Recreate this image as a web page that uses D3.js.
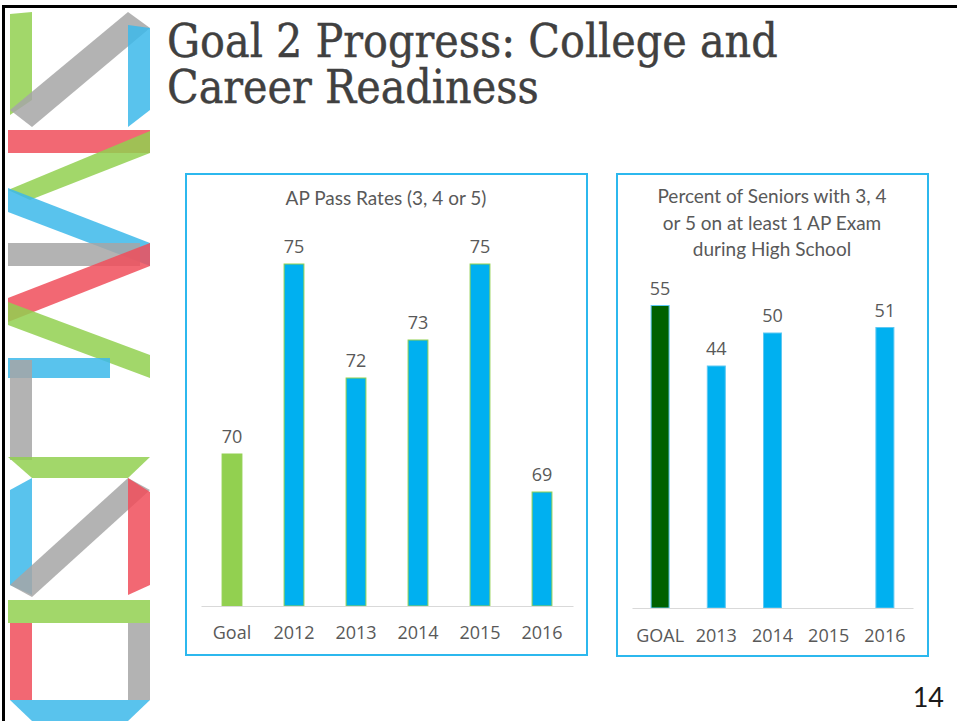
<!DOCTYPE html>
<html>
<head>
<meta charset="utf-8">
<script src="https://cdn.jsdelivr.net/npm/d3@7"></script>
<style>
  html, body { margin: 0; padding: 0; background: #ffffff; }
  svg { display: block; }
  .axis text { font-family: "Open Sans", sans-serif; font-size: 18px; fill: #595959; }
  .axis path { stroke: #d9d9d9; }
</style>
</head>
<body>
<div id="slide"></div>
<script>
// slide.js

// AP pass rates chart
const apCategories = ["Goal", "2012", "2013", "2014", "2015", "2016"];
const apValues = [70, 75, 72, 73, 75, 69];

// seniors with a 3+ chart (no 2015 value)
const seniorCategories = ["GOAL", "2013", "2014", "2015", "2016"];
const seniorValues = [55, 44, 50, null, 51];

const titleLines = ["Goal 2 Progress:  College and", "Career Readiness"];
const apTitle = ["AP Pass Rates (3, 4 or 5)"];
const seniorTitle = ["Percent of Seniors with 3, 4", "or 5 on at least 1 AP Exam", "during High School"];

(function() {
    const W = 957, H = 721;
    const blue = "#00b0f0", green = "#92d050", darkGreen = "#006100";

    const svg = d3.select("#slide").append("svg")
        .attr("width", W)
        .attr("height", H);

    // ribbon logo down the left side
    const ribbons = [
        ["#92d050", [[10,14],[32,12],[32,100],[10,115]]],
        ["#a6a6a6", [[10,110],[128,12],[150,28],[32,127]]],
        ["#3cb9ea", [[128,25],[150,28],[150,110],[128,127]]],
        ["#f04e5a", [[8,130],[150,130],[150,153],[8,153]]],
        ["#92d050", [[150,131],[150,153],[30,200],[8,190]]],
        ["#3cb9ea", [[8,188],[150,243],[150,266],[8,212]]],
        ["#a6a6a6", [[8,243],[140,243],[140,266],[8,266]]],
        ["#f04e5a", [[150,243],[150,266],[8,322],[8,298]]],
        ["#92d050", [[8,302],[8,325],[150,378],[150,355]]],
        ["#3cb9ea", [[8,358],[110,358],[110,378],[8,378]]],
        ["#a6a6a6", [[10,360],[32,360],[32,460],[10,460]]],
        ["#92d050", [[8,457],[150,457],[128,478],[32,478]]],
        ["#3cb9ea", [[10,490],[32,478],[32,595],[10,585]]],
        ["#a6a6a6", [[128,478],[150,490],[32,597],[10,585]]],
        ["#f04e5a", [[128,478],[150,492],[150,585],[128,595]]],
        ["#92d050", [[8,600],[150,600],[150,623],[8,623]]],
        ["#f04e5a", [[10,623],[32,623],[32,700],[10,700]]],
        ["#a6a6a6", [[128,623],[150,623],[150,700],[128,700]]],
        ["#3cb9ea", [[10,700],[150,700],[128,721],[32,721]]]
    ];
    svg.append("g").selectAll("polygon")
        .data(ribbons)
        .join("polygon")
        .attr("points", d => d[1].map(p => p.join(",")).join(" "))
        .attr("fill", d => d[0])
        .attr("fill-opacity", 0.85);

    // black frame (top + left)
    svg.append("rect").attr("x", 2).attr("y", 5).attr("width", W).attr("height", 3).attr("fill", "#000");
    svg.append("rect").attr("x", 2).attr("y", 5).attr("width", 3).attr("height", H).attr("fill", "#000");

    // slide title (one text, two lines)
    svg.append("text")
        .attr("font-family", "DejaVu Serif Condensed, DejaVu Serif, serif")
        .attr("font-stretch", "condensed")
        .attr("font-size", 46)
        .attr("fill", "#404040")
        .attr("stroke", "#404040")
        .attr("stroke-width", 0.4)
        .selectAll("tspan")
        .data(titleLines)
        .join("tspan")
        .attr("x", 167)
        .attr("y", (d, i) => 57 + i * 46)
        .text(d => d);

    function drawChart(cfg) {
        const g = svg.append("g");

        g.append("rect")
            .attr("x", cfg.box[0]).attr("y", cfg.box[1])
            .attr("width", cfg.box[2]).attr("height", cfg.box[3])
            .attr("fill", "none")
            .attr("stroke", "#2cb8ee")
            .attr("stroke-width", 2);

        g.append("g").selectAll("text")
            .data(cfg.title)
            .join("text")
            .attr("x", cfg.titleX)
            .attr("y", (d, i) => cfg.titleY + i * 26.5)
            .attr("text-anchor", "middle")
            .attr("font-family", "Lato, sans-serif")
            .attr("font-size", 19)
            .attr("fill", "#595959")
            .text(d => d);

        const x = d3.scaleBand()
            .domain(cfg.categories)
            .range(cfg.xRange)
            .paddingInner(0.68)
            .paddingOuter(0.34);

        const y = d3.scaleLinear()
            .domain(cfg.yDomain)
            .range(cfg.yRange);

        const data = cfg.categories.map((c, i) => ({ cat: c, val: cfg.values[i], i }))
            .filter(d => d.val != null);

        g.append("g").selectAll("rect")
            .data(data)
            .join("rect")
            .attr("x", d => x(d.cat))
            .attr("y", d => y(d.val))
            .attr("width", x.bandwidth())
            .attr("height", d => y(cfg.yDomain[0]) - y(d.val))
            .attr("fill", d => d.i === 0 ? cfg.goalColor : blue)
            .attr("stroke", cfg.outline)
            .attr("stroke-width", 1);

        g.append("g").selectAll("text")
            .data(data)
            .join("text")
            .attr("x", d => x(d.cat) + x.bandwidth() / 2)
            .attr("y", d => y(d.val) - 11)
            .attr("text-anchor", "middle")
            .attr("font-family", "Open Sans, sans-serif")
            .attr("font-size", 18)
            .attr("fill", "#595959")
            .text(d => d.val);

        const axis = g.append("g")
            .attr("class", "axis")
            .attr("transform", `translate(0,${cfg.yRange[0]})`)
            .call(d3.axisBottom(x).tickSize(0).tickSizeOuter(0).tickPadding(cfg.pad));
        axis.select(".domain").attr("stroke", "#d9d9d9");
        axis.selectAll("text").attr("fill", "#595959");
    }

    drawChart({
        box: [186, 174, 401, 481],
        title: apTitle, titleX: 386, titleY: 205,
        categories: apCategories, values: apValues,
        xRange: [201, 573], yDomain: [66, 76], yRange: [606, 226],
        goalColor: green, outline: green, pad: 20
    });

    drawChart({
        box: [617, 174, 311, 482],
        title: seniorTitle, titleX: 772, titleY: 203,
        categories: seniorCategories, values: seniorValues,
        xRange: [632, 913], yDomain: [0, 60], yRange: [608, 278],
        goalColor: darkGreen, outline: "#5ec8f2", pad: 21
    });

    // page number
    svg.append("text")
        .attr("x", 944)
        .attr("y", 707)
        .attr("text-anchor", "end")
        .attr("font-family", "Lato, sans-serif")
        .attr("font-size", 27)
        .attr("fill", "#1a1a1a")
        .text("14");
})();
</script>
</body>
</html>
